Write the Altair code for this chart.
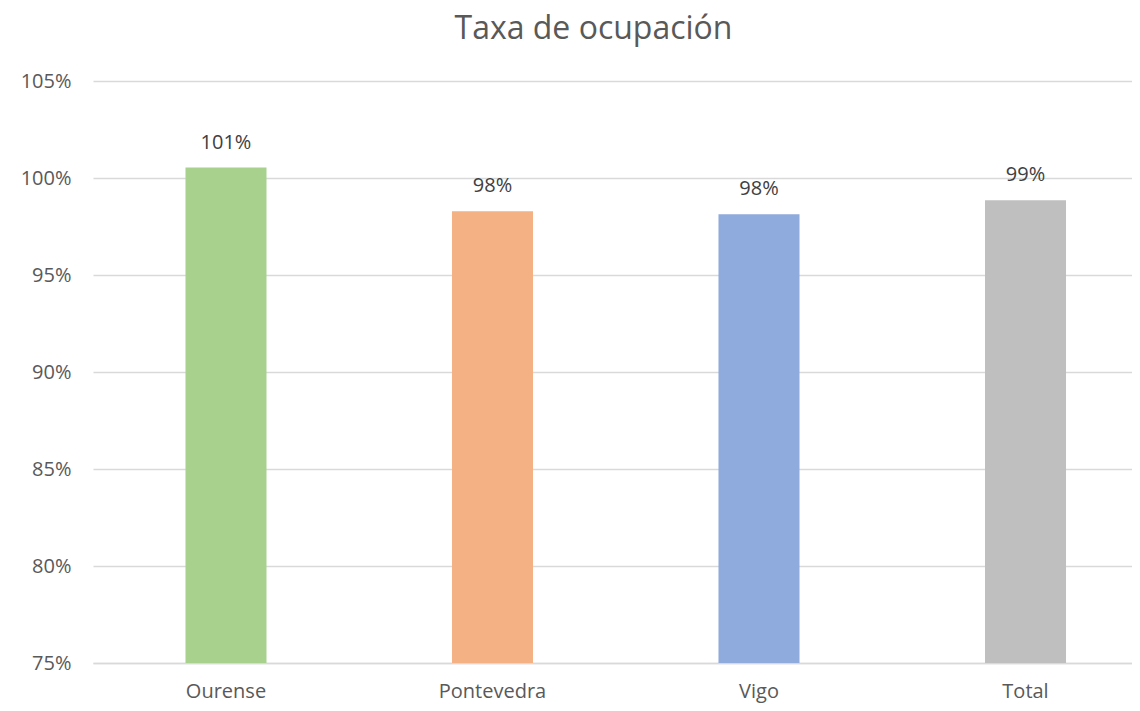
import altair as alt
import pandas as pd

categories = ["Ourense", "Pontevedra", "Vigo", "Total"]
values = [1.0054, 0.9828, 0.9813, 0.9885]
colors = ["#A9D18E", "#F4B183", "#8FAADC", "#BFBFBF"]

df = pd.DataFrame({"cat": categories, "val": values, "col": colors})

FONT = "Open Sans"

xscale = alt.Scale(paddingInner=0.696, paddingOuter=0.2973, align=0.5836)
yscale = alt.Scale(domain=[0.75, 1.05], nice=False, zero=False, clamp=True)

x = alt.X("cat:N", sort=categories, title=None, scale=xscale,
          axis=alt.Axis(labelAngle=0, labelPadding=18, grid=False))
y = alt.Y("val:Q", title=None, scale=yscale,
          axis=alt.Axis(format=".0%", values=[0.75, 0.80, 0.85, 0.90, 0.95, 1.00, 1.05],
                        domain=False, labelPadding=22))

base = alt.Chart(df)
bars = base.mark_bar(clip=True).encode(x=x, y=y, y2=alt.datum(0.75), color=alt.Color("col:N", scale=None))
labels = base.mark_text(dy=-19, fontSize=20, font=FONT, color="#404040", baseline="alphabetic").encode(
    x=alt.X("cat:N", sort=categories, title=None),
    y=alt.Y("val:Q", title=None),
    text=alt.Text("val:Q", format=".0%"))

chart = alt.layer(bars, labels).properties(
    width=1039, height=582,
    autosize=alt.AutoSizeParams(type="none"),
    padding={"left": 85, "top": 73, "right": 0, "bottom": 40},
    title=alt.TitleParams("Taxa de ocupación", font=FONT, fontSize=32, fontWeight="normal",
                          color="#595959", anchor="middle", offset=25, dx=-19),
).configure(background="white").configure_view(stroke=None).configure_axis(
    ticks=False, domainColor="#D9D9D9", domainWidth=1.5, gridColor="#D9D9D9", gridWidth=1.5,
    labelColor="#595959", labelFontSize=20, labelFont=FONT
)

chart.save("out.html", embed_options={"renderer": "svg", "actions": False})
